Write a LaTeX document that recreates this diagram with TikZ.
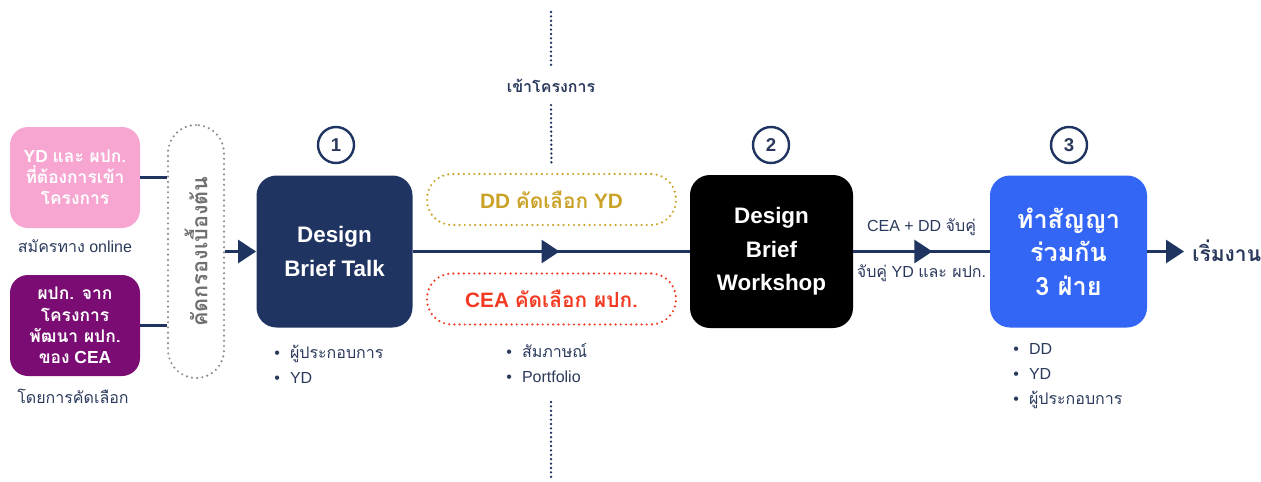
\documentclass[tikz,border=0pt]{standalone}
\usepackage{fontspec}
\setmainfont{Liberation Sans}
\newfontfamily\thaifont[Script=Thai]{Loma}
\usetikzlibrary{arrows.meta,decorations.markings}
\newcommand\tf[1]{{\thaifont #1}}
\newcommand\dotitem{\textbullet\hspace{5pt}}
\definecolor{navy}{HTML}{1F3461}
\definecolor{inknavy}{HTML}{2B3A5C}
\definecolor{pinkbox}{HTML}{F7A6D2}
\definecolor{plumbox}{HTML}{7A0C73}
\definecolor{bluebox}{HTML}{3466F6}
\definecolor{goldtxt}{HTML}{C9A227}
\definecolor{redtxt}{HTML}{F23A22}
\definecolor{dotgray}{HTML}{8C8C8C}

\begin{document}
\begin{tikzpicture}[x=0.5pt,y=-0.5pt,
	every node/.style={inner sep=0pt,text=inknavy},
	stage/.style={rounded corners=10pt,minimum width=78pt,minimum height=76pt,text=white,align=center,font=\bfseries\fontsize{11.2}{16.7}\selectfont},
	entry/.style={rounded corners=9pt,minimum width=65pt,minimum height=50.5pt,text=white,align=center,font=\bfseries\fontsize{8.7}{10.6}\selectfont},
	pill/.style={draw,line width=1.2pt,dash pattern=on 0pt off 2.6pt,line cap=round,rounded corners=12.5pt,minimum width=124.5pt,minimum height=25.5pt,font=\bfseries\fontsize{10.4}{12}\selectfont},
	num/.style={circle,draw=navy,line width=1.2pt,minimum size=18pt,font=\bfseries\fontsize{9.3}{11}\selectfont},
	note/.style={font=\fontsize{8}{12.5}\selectfont,align=left},
	link/.style={draw=navy,line width=1.2pt},
	flow/.style={draw=navy,line width=1.4pt},
	sep/.style={draw=navy,line width=1.3pt,dash pattern=on 0pt off 2.2pt,line cap=round},
	midarrow/.style={flow,postaction={decorate},decoration={markings,mark=at position #1 with {\arrow{Triangle[length=9pt,width=11.5pt]}}}},
	]
	\useasboundingbox (0,0) rectangle (1261,481);

	% entry boxes
	\node[entry,fill=pinkbox] (apply) at (75,177.5) {YD \tf{และ ผปก.}\\\tf{ที่ต้องการเข้า}\\\tf{โครงการ}};
	\node[note,font=\fontsize{8}{10}\selectfont] (applynote) at (75,246) {\tf{สมัครทาง} online};
	\node[entry,fill=plumbox] (source) at (75,325.5) {\tf{ผปก. จาก}\\\tf{โครงการ}\\\tf{พัฒนา ผปก.}\\\tf{ของ} CEA};
	\node[note,font=\fontsize{8}{10}\selectfont] (sourcenote) at (73,396) {\tf{โดยการคัดเลือก}};
	\node[draw=dotgray,line width=1.2pt,dash pattern=on 0pt off 2.6pt,line cap=round,rounded corners=14pt,minimum width=28pt,minimum height=126.5pt,text=dotgray!80!black,font=\thaifont\bfseries\fontsize{10.8}{12}\selectfont] (screen) at (196,251.5) {\rotatebox{90}{คัดกรองเบื้องต้น}};

	% stages
	\node[stage,fill=navy] (talk) at (334.5,251.5) {Design\\Brief Talk};
	\node[stage,fill=black,minimum width=81.5pt,minimum height=76.5pt] (workshop) at (771.5,251.5) {Design\\Brief\\Workshop};
	\node[stage,fill=bluebox,minimum width=78.5pt,font=\thaifont\bfseries\fontsize{12.6}{16.7}\selectfont] (contract) at (1068.5,251.5) {ทำสัญญา\\ร่วมกัน\\3 ฝ่าย};
	\node[num] (one) at (336,145) {1};
	\node[num] (two) at (771,145) {2};
	\node[num] (three) at (1069,145) {3};

	% selection
	\node[pill,draw=goldtxt,text=goldtxt] (pickyd) at (551.5,199.5) {DD \tf{คัดเลือก} YD};
	\node[pill,draw=redtxt,text=redtxt] (pickop) at (551.5,299) {CEA \tf{คัดเลือก ผปก.}};
	\node[font=\thaifont\bfseries\fontsize{8}{10}\selectfont,inner sep=6pt] (join) at (551,86) {เข้าโครงการ};
	\coordinate (cuttop) at (551,12);
	\coordinate (cutlow) at (551,402);
	\coordinate (cutend) at (551,481);

	% bullets
	\node[note,anchor=west] (talknote) at (274,364) {\dotitem\tf{ผู้ประกอบการ}\\\dotitem YD};
	\node[note,anchor=west] (picknote) at (506,363) {\dotitem\tf{สัมภาษณ์}\\\dotitem Portfolio};
	\node[note,anchor=west] (contractnote) at (1013,376) {\dotitem DD\\\dotitem YD\\\dotitem\tf{ผู้ประกอบการ}};
	\node[font=\thaifont\bfseries\fontsize{10.5}{12}\selectfont,anchor=west,inner sep=4pt] (begin) at (1184,251) {เริ่มงาน};

	% connectors
	\foreach \from/\to in {apply/screen,source/screen}
		\draw[link] (\from.east) -- (\from.east -| \to.west);
	\foreach \from/\to in {screen/talk,contract/begin}
		\draw[flow,-{Triangle[length=9pt,width=11.5pt]}] (\from.east) -- (\from.east -| \to.west);
	\draw[midarrow=0.53] (talk) -- (workshop);
	\draw[midarrow=0.58] (workshop) -- (contract)
		node[midway,above=7pt,font=\fontsize{8}{10}\selectfont] {CEA + DD \tf{จับคู่}}
		node[midway,below=6pt,font=\fontsize{8}{10}\selectfont] {\tf{จับคู่} YD \tf{และ ผปก.}};
	\draw[sep] (cuttop) -- (join.north);
	\draw[sep,shorten >=4pt] (join.south) -- (pickyd.north);
	\draw[sep] (cutlow) -- (cutend);
\end{tikzpicture}
\end{document}
